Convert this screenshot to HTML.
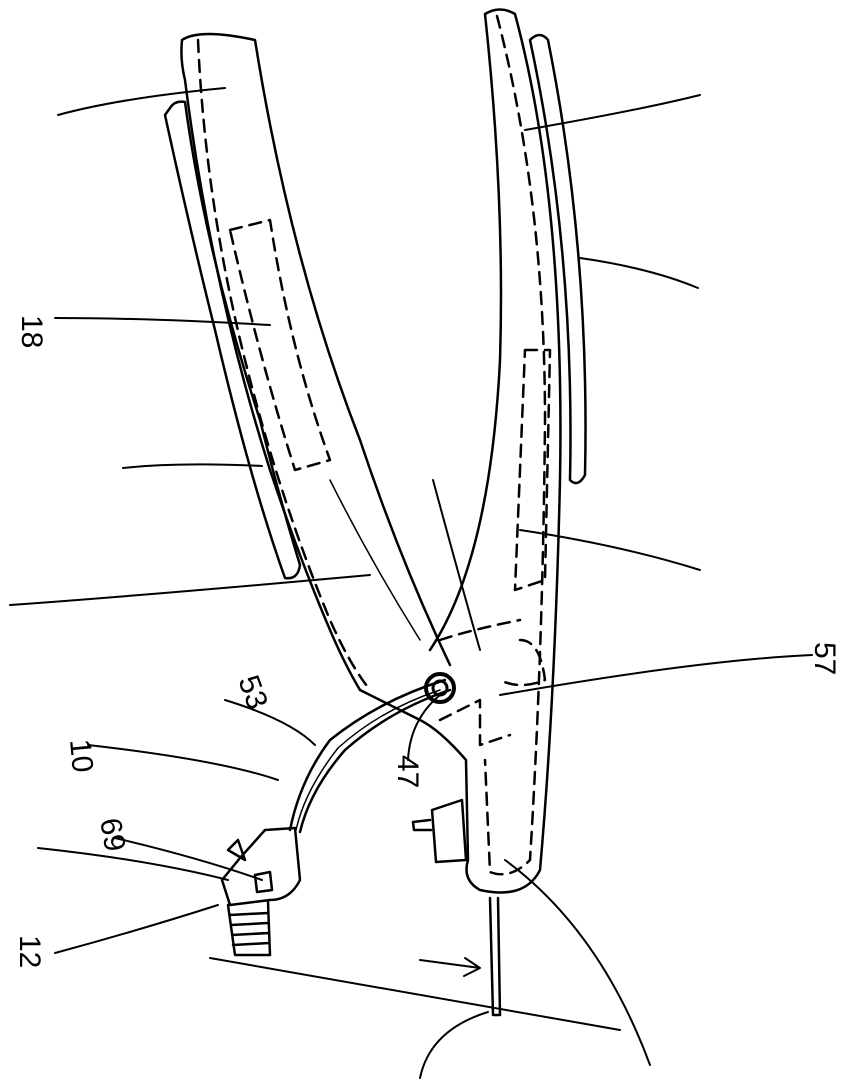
<!DOCTYPE html>
<html><head><meta charset="utf-8"><style>
html,body{margin:0;padding:0;background:#fff}
svg{display:block}
text{font-family:"Liberation Sans",sans-serif;font-size:30px;fill:#000;stroke:none;font-weight:normal}
</style></head><body>
<svg width="850" height="1090" viewBox="0 0 850 1090" fill="none" stroke="#000" stroke-width="2.5" stroke-linecap="round" stroke-linejoin="round">
<path d="M170 108 Q175 100 185 102 Q205 250 260 420 Q280 500 300 565 Q298 580 285 578 Q250 480 215 330 Q190 230 165 115 Z"/>
<path d="M182 40 Q200 28 255 40 Q290 260 360 440 Q400 560 450 665 M182 40 Q180 60 185 80 Q210 280 270 470 Q300 560 330 630 Q345 665 360 690"/>
<path stroke-dasharray="12 8" d="M198 40 Q205 200 245 360 Q280 500 330 620 Q350 665 370 690"/>
<path stroke-dasharray="12 8" d="M230 230 L270 220 Q290 350 330 460 L295 470 Q260 360 230 230"/>
<path stroke-width="1.5" d="M330 480 Q370 560 420 640"/>
<path d="M485 14 Q500 5 515 14 Q565 200 560 480 Q555 700 540 870 Q525 900 480 890 Q462 880 468 860 L466 760 Q440 730 420 720 L360 690 M485 14 Q505 200 500 360 Q490 560 430 650"/>
<path stroke-dasharray="12 8" d="M497 16 Q545 200 545 420 Q543 650 530 860 Q510 880 490 872 L485 760"/>
<path stroke-dasharray="12 8" d="M525 350 L550 350 L545 580 L515 590 Z M520 640 Q540 640 545 680 Q520 690 500 680 M440 640 Q470 630 520 620 M440 720 L480 700 L480 745 L510 735"/>
<path d="M530 40 Q540 30 548 40 Q590 250 585 475 Q578 488 570 480 Q575 250 530 40"/>
<path d="M432 810 L462 800 L466 860 L436 862 Z M430 820 L413 822 L414 830 L431 830"/>
<path d="M490 898 L493 1015 L500 1015 L498 898"/>
<path stroke-width="2" d="M420 960 L480 968 M465 958 L480 968 L464 976"/>
<path d="M445 680 Q380 700 330 740 Q300 780 290 830 M450 690 Q390 710 345 750 Q310 790 300 832"/>
<path stroke-width="1.5" d="M440 690 Q380 710 338 748 Q305 790 296 830"/>
<circle cx="440" cy="688" r="14" stroke-width="4"/>
<circle cx="440" cy="688" r="7" stroke-width="3"/>
<path d="M265 830 L295 828 L300 880 Q290 900 270 900 L230 905 L222 880 L240 858 Z M228 850 L238 840 L245 860 Z M255 875 L270 872 L272 890 L257 892 Z"/>
<path d="M228 905 L235 955 L270 955 L268 902 M230 915 L268 913 M231 925 L268 923 M232 935 L269 933 M233 945 L269 943"/>
<g stroke-width="2">
<path d="M58 115 Q120 98 225 88"/>
<path d="M700 95 Q640 110 525 130"/>
<path d="M698 288 Q650 268 580 258"/>
<path d="M55 318 Q150 318 270 325"/>
<path d="M123 468 Q180 462 262 466"/>
<path d="M700 570 Q620 545 520 530"/>
<path d="M10 605 Q150 595 370 575"/>
<path d="M433 480 Q460 580 480 650"/>
<path d="M812 655 Q700 660 500 695"/>
<path d="M225 700 Q290 720 315 745"/>
<path d="M88 745 Q220 760 278 780"/>
<path d="M115 838 Q200 858 262 880"/>
<path d="M38 848 Q150 860 228 880"/>
<path d="M55 953 Q140 930 218 905"/>
<path d="M408 760 Q410 720 440 695"/>
<path d="M505 860 Q600 930 650 1065"/>
<path d="M420 1078 Q430 1030 488 1012"/>
<path d="M210 958 L620 1030"/>
</g>
<text transform="translate(22,315) rotate(90)">18</text>
<text transform="translate(238,680) rotate(70)">53</text>
<text transform="translate(70,740) rotate(85)">10</text>
<text transform="translate(100,820) rotate(80)">69</text>
<text transform="translate(20,935) rotate(90)">12</text>
<text transform="translate(398,755) rotate(90)">47</text>
<text transform="translate(815,642) rotate(90)">57</text>
</svg>
</body></html>
